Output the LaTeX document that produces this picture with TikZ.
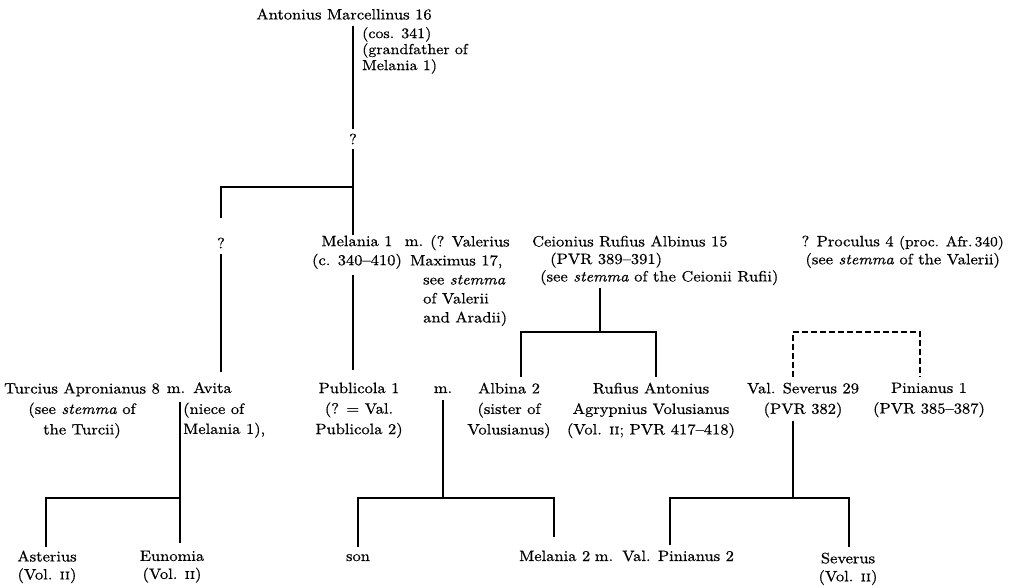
\documentclass[tikz,border=0pt]{standalone}
\usepackage{fontspec}
\setmainfont{lmroman10-regular.otf}[
  ItalicFont=lmroman10-italic.otf,
  BoldFont=lmroman10-bold.otf,
  SmallCapsFont=lmromancaps10-regular.otf,
  FakeStretch=1.1,
  FakeBold=0.6]
\usetikzlibrary{calc}
\begin{document}
\begin{tikzpicture}[x=1pt,y=-1pt,
  every node/.style={inner sep=0pt},
  txt/.style={font=\fontsize{15}{20.5}\selectfont},
  person/.style={txt, align=center, anchor=north},
  lnote/.style={txt, align=left, anchor=north west},
  marr/.style={txt, anchor=base},
  qm/.style={txt, inner ysep=5pt},
  link/.style={line width=1.7pt},
  dlink/.style={line width=1.7pt, dash pattern=on 6pt off 3pt}
]
\useasboundingbox (0,0) rectangle (1017,588);

% ---------- generation 0
\node[person] (antonius) at (344,8.5) {Antonius Marcellinus 16};
\node[lnote, font=\fontsize{14.5}{16}\selectfont] (cos) at (362,27) {(cos. 341)\\(grandfather of\\Melania 1)};
\node[qm] (q1) at (353,139) {?};
\node[qm] (q2) at (221,243) {?};
\coordinate (j1) at (353,187);

% ---------- generation 1
\node[person, font=\fontsize{15}{19}\selectfont] (mel1) at (357,235.5) {Melania 1\\(c. 340--410)};
\node[marr] (m1) at (414,246) {m.};
\node[lnote, font=\fontsize{15}{19}\selectfont] (valmax) at (410,235)
  {\hspace*{20pt}(? Valerius\\Maximus 17,\\\hspace*{13pt}see \textit{stemma}\\\hspace*{13pt}of Valerii\\\hspace*{13pt}and Aradii)};
\node[lnote, font=\fontsize{15}{17.5}\selectfont] (ceionius) at (532,235.5)
  {Ceionius Rufius Albinus 15\\\hspace*{18pt}(PVR 389--391)\\\hspace*{8pt}(see \textit{stemma} of the Ceionii Rufii)};
\node[person, anchor=north east, font=\fontsize{15}{18}\selectfont] (proculus) at (1004,235.5)
  {? Proculus 4 {\fontsize{14}{18}\selectfont(proc. Afr.\,340)}\\(see \textit{stemma} of the Valerii)};
\coordinate (j2) at (600,332);
\coordinate (j2l) at (521,332);
\coordinate (j2r) at (656,332);
\coordinate (d1) at (793,332);
\coordinate (d2) at (920,332);

% ---------- generation 2
\node[person] (turcius) at (82,382.5) {Turcius Apronianus 8\\(see \textit{stemma} of\\the Turcii)};
\node[marr] (mavita) at (176,393) {m.};
\node[txt, anchor=base west] (avita) at (193,393) {Avita};
\node[lnote, font=\fontsize{15}{20}\selectfont] (niece) at (183,402.5) {(niece of\\Melania 1),};
\node[person] (publicola) at (359,382.5) {Publicola 1\\(? = Val.\\Publicola 2)};
\node[marr] (mpub) at (443,393) {m.};
\node[person] (albina) at (509,382.5) {Albina 2\\(sister of\\Volusianus)};
\node[person] (rufius) at (651,382.5) {Rufius Antonius\\Agrypnius Volusianus\\(Vol. \textsc{ii}; PVR 417--418)};
\node[person] (severus29) at (803,382.5) {Val. Severus 29\\(PVR 382)};
\node[person] (pinianus1) at (929,382.5) {Pinianus 1\\(PVR 385--387)};
\coordinate (j3) at (793,498);
\coordinate (j3l) at (670,498);
\coordinate (j3r) at (849,498);
\coordinate (j4) at (443,498);
\coordinate (j4l) at (358,498);
\coordinate (j4r) at (554,498);
\coordinate (j5) at (180,498);
\coordinate (j5l) at (46,498);

% ---------- generation 3
\node[person, font=\fontsize{15}{18}\selectfont] (asterius) at (47,550.5) {Asterius\\(Vol. \textsc{ii})};
\node[person, font=\fontsize{15}{18}\selectfont] (eunomia) at (172,550.5) {Eunomia\\(Vol. \textsc{ii})};
\node[marr] (son) at (358,561) {son};
\node[txt, anchor=base west] (mel2) at (519,561) {Melania 2};
\node[marr] (mm2) at (604,561) {m.};
\node[txt, anchor=base west] (pin2) at (622,561) {Val. Pinianus 2};
\node[person, font=\fontsize{15}{18}\selectfont] (severus) at (848,552.5) {Severus\\(Vol. \textsc{ii})};

% ---------- connectors
\draw[link, shorten <=6pt] (q1 |- antonius.south) -- (q1.north);
\draw[link] (q1.south) -- (j1);
\draw[link, shorten >=15pt] (j1) -| (q2.north);
\draw[link, shorten >=1pt] (j1) -- (j1 |- mel1.north);
\draw[link, shorten <=6pt, shorten >=12.5pt] (j1 |- mel1.south) -- (j1 |- publicola.north);
\draw[link, shorten <=1pt, shorten >=10.5pt] (q2.south) -- (q2.south |- avita.north);

\draw[link, shorten <=3pt] (j2 |- ceionius.south) -- (j2);
\draw[link, shorten <=5.5pt, shorten >=5.5pt] (j2l |- albina.north) -- (j2l) -- (j2r) -- (j2r |- rufius.north);
\draw[dlink, shorten <=5.5pt, shorten >=5.5pt] (d1 |- severus29.north) -- (d1) -- (d2) -- (d2 |- pinianus1.north);

\draw[link, shorten <=3pt] (j3 |- severus29.south) -- (j3);
\draw[link, shorten <=5.5pt, shorten >=5.5pt] (j3l |- pin2.north) -- (j3l) -- (j3r) -- (j3r |- severus.north);

\draw[link, shorten <=7pt] (j4 |- mpub.south) -- (j4);
\draw[link, shorten <=7.5pt, shorten >=13.5pt] (j4l |- son.north) -- (j4l) -- (j4r) -- (j4r |- mel2.north);

\draw[link, shorten <=9pt, shorten >=7.5pt] (j5 |- avita.south) -- (j5) -- (j5 |- eunomia.north);
\draw[link, shorten >=3.5pt] (j5) -- (j5l) -- (j5l |- asterius.north);
\end{tikzpicture}
\end{document}
